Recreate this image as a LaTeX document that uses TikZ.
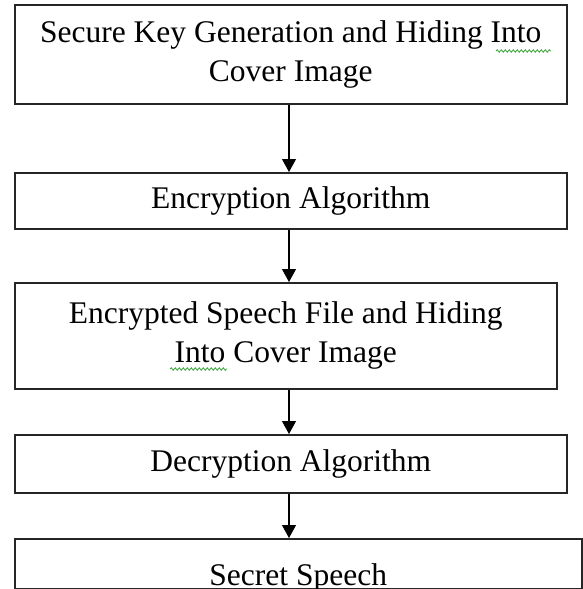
\documentclass[tikz,border=0pt]{standalone}
\usepackage{fontspec}
\setmainfont{Liberation Serif}
\usepackage{tikz}
\usetikzlibrary{arrows.meta,decorations.pathmorphing}

\definecolor{spellgreen}{RGB}{70,170,70}

\begin{document}
\begin{tikzpicture}[>={Triangle[width=14pt,length=13pt]},
	box/.style={draw=black!85,line width=1.5pt,anchor=north west,inner sep=0pt,font=\fontsize{31.5}{39}\selectfont},
	flow/.style={->,line width=1.2pt},
	wavy/.style={draw=spellgreen,line width=0.9pt,decorate,decoration={snake,amplitude=1.2pt,segment length=4pt}}]
			\useasboundingbox (0,0) rectangle (582pt,-589pt);
			\coordinate (spine) at (289pt,0);
			\node [box,align=center,minimum width=552pt,minimum height=99pt] (key) at (14pt,-4pt) {Secure Key Generation and Hiding Into\\Cover Image};
			\node [box,minimum width=552pt,minimum height=56pt] (enc) at (14pt,-172pt) {Encryption Algorithm};
			\node [box,align=center,minimum width=542pt,minimum height=106pt] (file) at (14pt,-282pt) {Encrypted Speech File and Hiding\\Into Cover Image};
			\node [box,minimum width=552pt,minimum height=58pt] (dec) at (14pt,-434pt) {Decryption Algorithm};
			\node [box,minimum width=567pt,text height=47pt,text depth=3pt] (speech) at (14pt,-538pt) {Secret Speech};
			\draw [flow] (key.south -| spine) -- (enc.north -| spine);
			\draw [flow] (enc.south -| spine) -- (file.north -| spine);
			\draw [flow] (file.south -| spine) -- (dec.north -| spine);
			\draw [flow] (dec.south -| spine) -- (speech.north -| spine);
			% spelling marks under "Into"
			\draw [wavy] ([xshift=482pt,yshift=-47pt]key.north west) -- ++(55pt,0);
			\draw [wavy] ([xshift=156pt,yshift=-87pt]file.north west) -- ++(57pt,0);
			\end{tikzpicture}
\end{document}
